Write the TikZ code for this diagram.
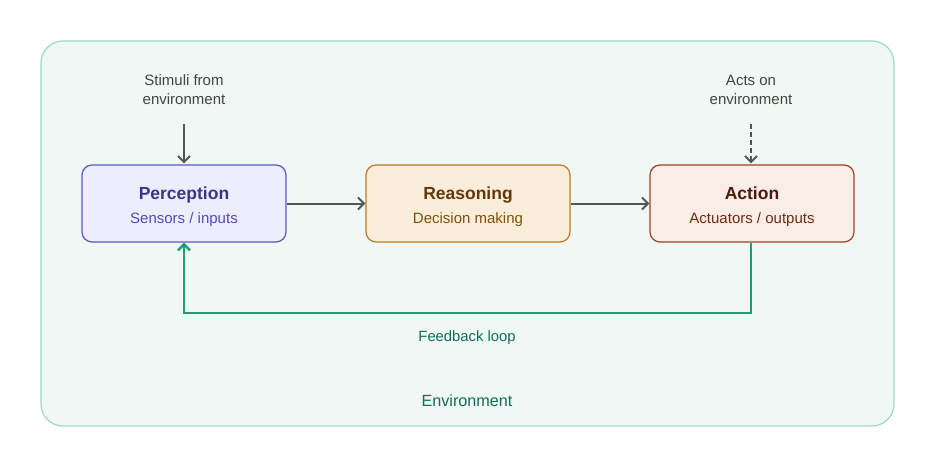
\documentclass[tikz,border=0pt]{standalone}
\usepackage{fontspec}
\setmainfont{Liberation Sans}
\usetikzlibrary{arrows.meta, positioning}
\definecolor{envfill}{HTML}{EFF8F4}
\definecolor{envline}{HTML}{9FD9C2}
\definecolor{envtext}{HTML}{0F6E56}
\definecolor{loopline}{HTML}{1D9E75}
\definecolor{percfill}{HTML}{EEEDFE}
\definecolor{percline}{HTML}{5F57C2}
\definecolor{perctitle}{HTML}{3C3489}
\definecolor{percsub}{HTML}{534AB7}
\definecolor{reasfill}{HTML}{FAEEDA}
\definecolor{reasline}{HTML}{BE7B22}
\definecolor{reastitle}{HTML}{633806}
\definecolor{reassub}{HTML}{854F0B}
\definecolor{actfill}{HTML}{FAECE7}
\definecolor{actline}{HTML}{9E4426}
\definecolor{acttitle}{HTML}{4A1B0C}
\definecolor{actsub}{HTML}{712B13}
\definecolor{wiregray}{HTML}{555555}
\definecolor{notegray}{HTML}{444441}
\tikzset{
    stagebox/.style={
        rectangle, rounded corners=10pt, line width=1.2pt,
        minimum width=204pt, minimum height=77pt
    },
    stagetitle/.style={anchor=base, font=\fontsize{17.5}{20}\selectfont\bfseries},
    stagesub/.style={anchor=base, font=\fontsize{15}{18}\selectfont},
    note/.style={anchor=base, text=notegray, align=center,
        font=\fontsize{15}{19}\selectfont},
    wire/.style={draw=wiregray, line width=2pt,
        -{Straight Barb[length=6pt, width=12pt]}},
    loopwire/.style={draw=loopline, line width=2.5pt,
        -{Straight Barb[length=6pt, width=12pt]}}
}

\begin{document}
\begin{tikzpicture}[x=1pt, y=-1pt]
\useasboundingbox (0,0) rectangle (936,468);

% Environment
\draw[envline, fill=envfill, line width=1.2pt, rounded corners=22pt] (41,41) rectangle (894,426);
\node[anchor=base, text=envtext, font=\fontsize{16.2}{19}\selectfont] (envlabel) at (467,406) {Environment};

% Stages
\node[stagebox, draw=percline, fill=percfill] (perc) at (184,203.5) {};
\node[stagetitle, text=perctitle] (perctxt) at (184,199.5) {Perception};
\node[stagesub, text=percsub] (percsubtxt) at (184,223.5) {Sensors / inputs};

\node[stagebox, draw=reasline, fill=reasfill] (reas) at (468,203.5) {};
\node[stagetitle, text=reastitle] (reastxt) at (468,199.5) {Reasoning};
\node[stagesub, text=reassub] (reassubtxt) at (468,223.5) {Decision making};

\node[stagebox, draw=actline, fill=actfill] (act) at (752,203.5) {};
\node[stagetitle, text=acttitle] (acttxt) at (752,199.5) {Action};
\node[stagesub, text=actsub] (actsubtxt) at (752,223.5) {Actuators / outputs};

\draw[wire] (perc.east) -- (reas.west);
\draw[wire] (reas.east) -- (act.west);

% Input and output notes
\node[note] (stim) at (184,104.5) {Stimuli from\\environment};
\coordinate (stimend) at (184,124);
\draw[wire] (stimend) -- ([yshift=1pt]perc.north);

\node[note] (acts) at (751,104.5) {Acts on\\environment};
\coordinate (actsend) at (751,124);
\draw[wire, dashed, dash pattern=on 5pt off 3pt] (actsend) -- ([xshift=-1pt, yshift=1pt]act.north);

% Feedback loop
\coordinate (loopright) at (751,313);
\coordinate (loopleft) at (184,313);
\draw[loopwire] ([xshift=-1pt]act.south) -- (loopright) -- (loopleft) -- (perc.south);
\node[anchor=base, text=envtext, font=\fontsize{14.8}{18}\selectfont] (looplabel) at (467,341.5) {Feedback loop};

\end{tikzpicture}
\end{document}
